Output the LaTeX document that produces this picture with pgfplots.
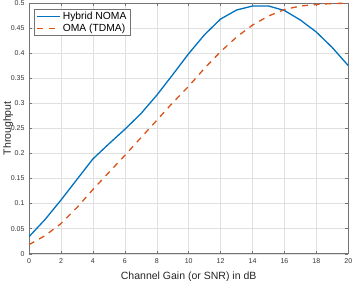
\documentclass[border=0pt]{standalone}
\usepackage{pgfplots}
\pgfplotsset{compat=1.18}
\usepackage{fontspec}
\setmainfont{Liberation Sans}
\definecolor{mblue}{rgb}{0,0.447,0.741}
\definecolor{morange}{rgb}{0.85,0.325,0.098}
\begin{document}
\begin{tikzpicture}
\begin{axis}[
  scale only axis,
  width=319pt, height=250.5pt,
  xmin=0, xmax=20, ymin=0, ymax=0.5,
  xtick={0,2,...,20},
  ytick={0,0.05,0.1,0.15,0.2,0.25,0.3,0.35,0.4,0.45,0.5},
  yticklabel style={/pgf/number format/fixed,/pgf/number format/precision=2},
  /pgf/number format/assume math mode=true,
  tick label style={font=\fontsize{7}{8}\selectfont, color=black!80},
  xticklabel style={yshift=-1pt},
  yticklabel style={xshift=-1pt},
  label style={font=\fontsize{10.5}{12}\selectfont, color=black!85},
  xlabel={Channel Gain (or SNR) in dB},
  ylabel={Throughput},
  xlabel style={at={(axis description cs:0.5,-0.1018)}, anchor=base},
  ylabel style={at={(axis description cs:-0.0815,0.5)}, anchor=north, inner sep=0pt},
  tick align=inside,
  major tick length=3pt,
  tick style={color=black!55, line width=0.4pt},
  axis line style={color=black!55, line width=0.5pt},
  grid=major,
  grid style={color=black!12, line width=0.4pt},
  legend style={at={(rel axis cs:0,1)}, xshift=5.3pt, yshift=-6pt, anchor=north west,
    font=\fontsize{10.3}{12}\selectfont, draw=black!55, line width=0.4pt,
    inner xsep=2pt, inner ysep=1pt, row sep=-1.5pt},
  legend image code/.code={\draw[#1] (0pt,0pt) -- (23pt,0pt);},
  legend cell align=left,
]
\addplot[color=mblue, line width=1.3pt] coordinates {
(0,0.034) (1,0.068) (2,0.107) (3,0.148) (4,0.189) (5,0.219) (6,0.248) (7,0.279) (8,0.316) (9,0.357) (10,0.399) (11,0.437) (12,0.468) (13,0.486) (14,0.494) (15,0.494) (16,0.485) (17,0.466) (18,0.442) (19,0.411) (20,0.375)
};
\addlegendentry{Hybrid NOMA}
\addplot[color=morange, line width=1.3pt, dash pattern=on 6pt off 5.5pt] coordinates {
(0,0.018) (1,0.036) (2,0.060) (3,0.092) (4,0.128) (5,0.162) (6,0.196) (7,0.231) (8,0.266) (9,0.301) (10,0.334) (11,0.370) (12,0.403) (13,0.432) (14,0.456) (15,0.474) (16,0.487) (17,0.494) (18,0.497) (19,0.499) (20,0.4995)
};
\addlegendentry{OMA (TDMA)}
\end{axis}
\pgfresetboundingbox
\useasboundingbox ([xshift=-29pt,yshift=-26.5pt]current axis.south west) rectangle ([xshift=4.7pt,yshift=3pt]current axis.north east);
\end{tikzpicture}
\end{document}
